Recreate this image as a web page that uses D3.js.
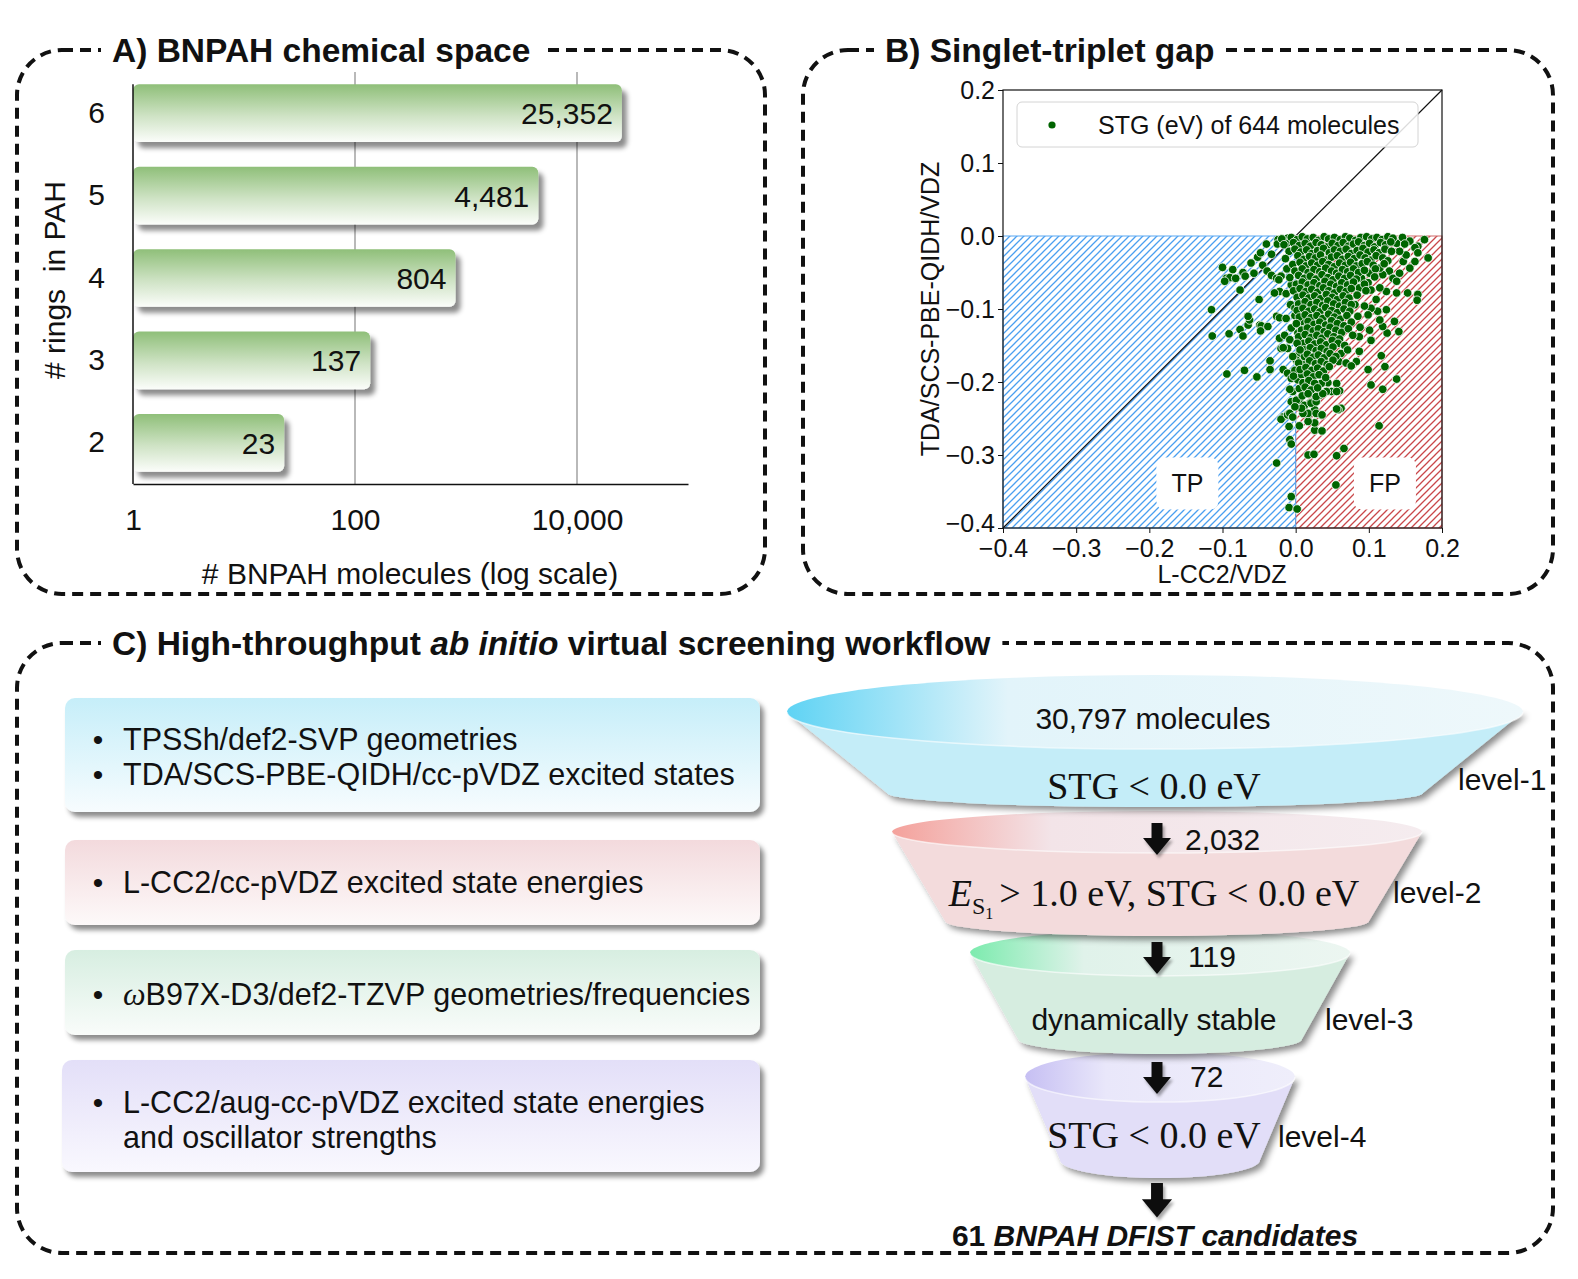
<!DOCTYPE html>
<html lang="en">
<head>
  <meta charset="UTF-8" />
  <title>BNPAH screening overview</title>
  <style>
    body {
      margin: 0;
      background: #fff;
    }
    svg {
      display: block;
      font-family: 'Liberation Sans', Arial, sans-serif;
    }
    .axisA text { font-size: 30px; fill: #111; }
    .axisA path { stroke: #111; stroke-width: 1.5px; }
    .axisB text { font-size: 25px; fill: #111; }
    .axisB line { stroke: #111; }
    .axisB path { display: none; }
  </style>
</head>
<body>
<svg id="fig" width="1578" height="1279"></svg>

<script src="https://d3js.org/d3.v7.min.js"></script>
<script>
  // --- data
  const ringCounts = ["6", "5", "4", "3", "2"];
  const moleculeCounts = [25352, 4481, 804, 137, 23];
  const logTicks = [1, 100, 10000];

  const stgTicks = [-0.4, -0.3, -0.2, -0.1, 0.0, 0.1, 0.2];
  const stgLegend = "STG (eV) of 644 molecules";
  // [L-CC2/VDZ, TDA/SCS-PBE-QIDH/VDZ] in eV
  const stgPoints = [
    // scattered TP side
    [-0.115,-0.101],[-0.114,-0.137],[-0.100,-0.043],[-0.086,-0.046],[-0.095,-0.058],[-0.090,-0.057],
    [-0.082,-0.058],[-0.097,-0.062],[-0.076,-0.074],[-0.072,-0.050],[-0.069,-0.055],[-0.061,-0.037],
    [-0.057,-0.051],[-0.052,-0.029],[-0.048,-0.023],[-0.045,-0.040],[-0.040,-0.011],[-0.039,-0.048],
    [-0.033,-0.025],[-0.050,-0.087],[-0.091,-0.134],[-0.094,-0.189],[-0.070,-0.184],[-0.053,-0.193],
    [-0.076,-0.128],[-0.072,-0.137],[-0.065,-0.122],[-0.063,-0.115],[-0.065,-0.110],[-0.049,-0.122],
    [-0.047,-0.123],[-0.048,-0.130],[-0.038,-0.124],[-0.035,-0.171],[-0.035,-0.183],[-0.026,-0.311],
    [-0.006,-0.357],[-0.009,-0.372],[0.002,-0.374],[-0.024,-0.005],[-0.025,-0.011],[-0.011,-0.003],
    [-0.012,-0.010],[-0.012,-0.045],[-0.033,-0.054],[-0.026,-0.058],[-0.020,-0.055],[-0.023,-0.060],
    [-0.022,-0.076],[-0.029,-0.078],[-0.013,-0.079],[-0.006,-0.067],[-0.007,-0.094],[-0.026,-0.110],
    [-0.022,-0.112],[-0.013,-0.113],[-0.020,-0.154],[-0.011,-0.154],[-0.022,-0.140],[-0.015,-0.136],
    [-0.017,-0.183],[-0.011,-0.188],[-0.006,-0.195],[-0.004,-0.213],[-0.006,-0.227],[-0.017,-0.248],
    [-0.020,-0.251],[-0.011,-0.245],[-0.009,-0.261],[-0.008,-0.279],[-0.006,-0.285],[-0.008,-0.243],
    [-0.004,-0.248],[-0.017,-0.153],
    // scattered FP side
    [0.176,-0.005],[0.167,-0.014],[0.156,-0.007],[0.163,-0.016],[0.181,-0.030],[0.163,-0.035],
    [0.156,-0.044],[0.147,-0.035],[0.151,-0.026],[0.142,-0.021],[0.138,-0.010],[0.167,-0.023],
    [0.167,-0.080],[0.166,-0.088],[0.153,-0.078],[0.138,-0.078],[0.124,-0.076],[0.115,-0.071],
    [0.128,-0.048],[0.119,-0.053],[0.115,-0.044],[0.133,-0.058],[0.142,-0.051],[0.138,-0.062],
    [0.110,-0.087],[0.124,-0.101],[0.112,-0.103],[0.103,-0.099],[0.099,-0.108],[0.085,-0.110],
    [0.094,-0.096],[0.081,-0.094],[0.101,-0.051],[0.099,-0.064],[0.087,-0.071],[0.090,-0.058],
    [0.103,-0.074],[0.135,-0.117],[0.141,-0.131],[0.125,-0.133],[0.119,-0.124],[0.115,-0.115],
    [0.101,-0.129],[0.103,-0.143],[0.088,-0.125],[0.087,-0.138],[0.087,-0.158],[0.083,-0.172],
    [0.062,-0.161],[0.059,-0.172],[0.069,-0.174],[0.076,-0.178],[0.099,-0.183],[0.117,-0.164],
    [0.122,-0.179],[0.138,-0.196],[0.103,-0.204],[0.119,-0.210],[0.060,-0.212],[0.049,-0.213],
    [0.056,-0.202],[0.044,-0.201],[0.062,-0.236],[0.058,-0.238],[0.035,-0.245],[0.026,-0.225],
    [0.033,-0.218],[0.019,-0.229],[0.012,-0.233],[0.026,-0.238],[0.017,-0.245],[0.055,-0.341],
    [0.017,-0.300],[0.025,-0.299],[0.056,-0.301],[0.066,-0.291],[0.114,-0.260],[0.005,-0.260],
    [0.026,-0.266],[0.036,-0.267],[0.026,-0.256],[0.017,-0.254],[0.017,-0.243],[0.010,-0.243],
    [0.028,-0.243],[0.036,-0.245],[0.056,-0.237],[0.005,-0.225],[0.012,-0.232],[0.008,-0.236],
    [0.021,-0.229],[0.028,-0.227],[0.042,-0.213],[0.056,-0.213],[0.035,-0.202],[0.028,-0.220],
    [0.037,-0.216],[0.001,-0.225],[-0.001,-0.234],[0.005,-0.209],[0.003,-0.197],[0.008,-0.190],
    [-0.001,-0.184],[0.005,-0.122],[0.012,-0.124],[0.003,-0.133],[-0.006,-0.126],[-0.008,-0.142],
    [0.010,-0.147],[0.012,-0.156],[0.005,-0.161],[0.001,-0.170],[0.009,-0.174],[0.012,-0.165],
    [0.008,-0.117],[-0.001,-0.109],[-0.001,-0.099],[0.005,-0.096],[0.005,-0.069],[-0.001,-0.076],
    // dense core
    [-0.019,-0.004],[-0.006,-0.002],[0.002,-0.005],[0.009,-0.001],[0.016,-0.004],[0.024,-0.002],
    [0.031,-0.006],[0.039,-0.001],[0.045,-0.004],[0.053,-0.002],[0.061,-0.005],[0.068,-0.001],
    [0.074,-0.003],[0.082,-0.006],[0.089,-0.002],[0.097,-0.001],[0.104,-0.004],[0.111,-0.002],
    [0.118,-0.005],[0.126,-0.001],[0.133,-0.003],[0.146,-0.002],
    [-0.016,-0.012],[-0.003,-0.009],[0.005,-0.013],[0.013,-0.010],[0.020,-0.014],[0.028,-0.009],
    [0.035,-0.012],[0.043,-0.015],[0.050,-0.010],[0.058,-0.013],[0.065,-0.009],[0.072,-0.014],
    [0.079,-0.011],[0.086,-0.008],[0.094,-0.013],[0.101,-0.010],[0.108,-0.015],[0.116,-0.009],
    [0.123,-0.012],[0.130,-0.008],[0.149,-0.011],
    [-0.009,-0.021],[-0.001,-0.018],[0.007,-0.022],[0.015,-0.019],[0.022,-0.024],[0.030,-0.020],
    [0.038,-0.017],[0.046,-0.023],[0.053,-0.019],[0.061,-0.021],[0.069,-0.018],[0.076,-0.024],
    [0.084,-0.020],[0.092,-0.017],[0.099,-0.022],[0.107,-0.019],[0.114,-0.023],[0.122,-0.018],
    [0.131,-0.021],
    [-0.014,-0.031],[0.003,-0.027],[0.011,-0.032],[0.019,-0.028],[0.027,-0.030],[0.034,-0.026],
    [0.042,-0.033],[0.049,-0.029],[0.057,-0.027],[0.064,-0.032],[0.072,-0.028],[0.080,-0.031],
    [0.088,-0.026],[0.095,-0.030],[0.103,-0.033],[0.110,-0.027],[0.119,-0.030],[0.126,-0.034],
    [-0.004,-0.039],[0.006,-0.036],[0.014,-0.041],[0.022,-0.037],[0.030,-0.040],[0.037,-0.035],
    [0.045,-0.039],[0.053,-0.042],[0.060,-0.037],[0.068,-0.040],[0.075,-0.036],[0.083,-0.041],
    [0.091,-0.038],[0.098,-0.035],[0.106,-0.040],[0.121,-0.038],
    [-0.001,-0.048],[0.009,-0.045],[0.017,-0.050],[0.025,-0.046],[0.033,-0.049],[0.041,-0.044],
    [0.049,-0.048],[0.056,-0.051],[0.064,-0.046],[0.071,-0.049],[0.079,-0.045],[0.086,-0.050],
    [0.094,-0.047],[0.109,-0.045],
    [-0.008,-0.057],[0.004,-0.054],[0.012,-0.058],[0.020,-0.055],[0.028,-0.059],[0.036,-0.053],
    [0.044,-0.057],[0.051,-0.060],[0.059,-0.055],[0.067,-0.058],[0.075,-0.054],[0.083,-0.059],
    [0.108,-0.056],
    [0.001,-0.066],[0.009,-0.063],[0.017,-0.067],[0.025,-0.064],[0.033,-0.068],[0.040,-0.062],
    [0.048,-0.066],[0.056,-0.069],[0.063,-0.064],[0.071,-0.067],[0.079,-0.063],[0.094,-0.066],
    [-0.003,-0.075],[0.006,-0.072],[0.014,-0.076],[0.022,-0.073],[0.030,-0.077],[0.038,-0.071],
    [0.045,-0.075],[0.053,-0.078],[0.061,-0.073],[0.069,-0.076],[0.076,-0.072],[0.096,-0.075],
    [0.002,-0.084],[0.010,-0.081],[0.018,-0.085],[0.026,-0.082],[0.034,-0.086],[0.042,-0.080],
    [0.050,-0.084],[0.057,-0.087],[0.065,-0.082],[0.073,-0.085],[0.084,-0.081],
    [0.004,-0.093],[0.013,-0.090],[0.021,-0.094],[0.029,-0.091],[0.037,-0.095],[0.044,-0.089],
    [0.052,-0.093],[0.060,-0.096],[0.068,-0.091],[0.076,-0.094],
    [0.002,-0.102],[0.010,-0.099],[0.018,-0.103],[0.026,-0.100],[0.033,-0.104],[0.041,-0.098],
    [0.049,-0.102],[0.057,-0.105],[0.066,-0.100],[0.074,-0.103],
    [0.005,-0.111],[0.013,-0.108],[0.021,-0.112],[0.029,-0.109],[0.037,-0.113],[0.045,-0.107],
    [0.053,-0.111],[0.061,-0.114],[0.070,-0.109],
    [0.001,-0.120],[0.017,-0.117],[0.025,-0.121],[0.033,-0.118],[0.041,-0.122],[0.049,-0.116],
    [0.057,-0.120],[0.066,-0.123],[0.076,-0.118],
    [0.008,-0.129],[0.016,-0.126],[0.024,-0.130],[0.031,-0.127],[0.039,-0.131],[0.047,-0.125],
    [0.055,-0.129],[0.063,-0.132],[0.072,-0.127],
    [0.004,-0.138],[0.013,-0.135],[0.021,-0.139],[0.029,-0.136],[0.036,-0.140],[0.044,-0.134],
    [0.052,-0.138],[0.060,-0.141],[0.078,-0.136],
    [0.002,-0.147],[0.018,-0.144],[0.026,-0.148],[0.034,-0.145],[0.042,-0.149],[0.050,-0.143],
    [0.058,-0.147],[0.067,-0.150],
    [0.006,-0.156],[0.020,-0.153],[0.028,-0.157],[0.035,-0.154],[0.043,-0.158],[0.051,-0.152],
    [0.071,-0.156],
    [-0.004,-0.165],[0.016,-0.162],[0.024,-0.166],[0.031,-0.163],[0.039,-0.167],[0.047,-0.161],
    [0.055,-0.165],
    [0.004,-0.174],[0.019,-0.171],[0.027,-0.175],[0.035,-0.172],[0.043,-0.176],[0.051,-0.170],
    [0.006,-0.183],[0.014,-0.180],[0.022,-0.184],[0.030,-0.181],[0.038,-0.185],[0.046,-0.179],
    [-0.003,-0.192],[0.016,-0.189],[0.024,-0.193],[0.032,-0.190],[0.041,-0.194],
    [0.010,-0.201],[0.018,-0.198],[0.026,-0.202],
    [-0.008,-0.210],[0.013,-0.207],[0.021,-0.211],[0.030,-0.208],
    [0.009,-0.219],[0.017,-0.216]
  ];

  const protocolSteps = [
    [{ bullet: true, text: "TPSSh/def2-SVP geometries" },
     { bullet: true, text: "TDA/SCS-PBE-QIDH/cc-pVDZ excited states" }],
    [{ bullet: true, text: "L-CC2/cc-pVDZ excited state energies" }],
    [{ bullet: true, text: "ωB97X-D3/def2-TZVP geometries/frequencies" }],
    [{ bullet: true, text: "L-CC2/aug-cc-pVDZ excited state energies" },
     { bullet: false, text: "and oscillator strengths" }]
  ];
  const funnelCounts = ["30,797 molecules", "2,032", "119", "72"];
  const funnelCriteria = ["STG < 0.0 eV", "ES1 > 1.0 eV, STG < 0.0 eV", "dynamically stable", "STG < 0.0 eV"];
  const funnelLevels = ["level-1", "level-2", "level-3", "level-4"];
  const finalCount = "61";
  const finalLabel = "BNPAH DFIST candidates";

  // --- set up
  const svg = d3.select("#fig");
  const defs = svg.append("defs");

  function dropShadow(id, dx, dy, sd, op) {
    const f = defs.append("filter").attr("id", id)
      .attr("x", "-20%").attr("y", "-20%").attr("width", "145%").attr("height", "160%");
    f.append("feDropShadow").attr("dx", dx).attr("dy", dy).attr("stdDeviation", sd)
      .attr("flood-color", "#000").attr("flood-opacity", op);
  }
  function linGrad(id, vertical, stops) {
    const gr = defs.append("linearGradient").attr("id", id)
      .attr("x1", 0).attr("y1", 0).attr("x2", vertical ? 0 : 1).attr("y2", vertical ? 1 : 0);
    stops.forEach(s => gr.append("stop").attr("offset", s[0]).attr("stop-color", s[1]));
  }
  function hatch(id, color) {
    const p = defs.append("pattern").attr("id", id).attr("patternUnits", "userSpaceOnUse")
      .attr("width", 7).attr("height", 7);
    p.append("path").attr("d", "M-1,1 l2,-2 M0,7 l7,-7 M6,8 l2,-2")
      .attr("stroke", color).attr("stroke-width", 1.3);
  }

  dropShadow("barShadow", 5, 6, 2.5, 0.45);
  dropShadow("boxShadow", 4, 5, 2.5, 0.45);
  dropShadow("funnelShadow", 4, 4, 3, 0.45);
  dropShadow("arrowShadow", 2, 3, 1.5, 0.35);
  linGrad("barGrad", true, [[0, "#8fbf79"], [0.55, "#cfe3c5"], [1, "#fbfdfa"]]);
  hatch("hatchBlue", "#4a9ff0");
  hatch("hatchRed", "#c9474a");

  // --- dashed panel frames
  const frames = [
    { x: 17, y: 50, w: 748, h: 544, tx: 112 },
    { x: 803, y: 50, w: 750, h: 544, tx: 885 },
    { x: 17, y: 643, w: 1536, h: 610, tx: 112 }
  ];
  const frameG = svg.append("g");
  frames.forEach(f => {
    frameG.append("rect").attr("x", f.x).attr("y", f.y).attr("width", f.w).attr("height", f.h)
      .attr("rx", 45).attr("ry", 45)
      .attr("fill", "none").attr("stroke", "#111").attr("stroke-width", 4)
      .attr("stroke-dasharray", "11 7");
  });

  function frameTitle(f, parts) {
    const t = frameG.append("text").attr("x", f.tx).attr("y", f.y + 12)
      .attr("font-size", 33.5).attr("font-weight", "bold").attr("fill", "#111");
    parts.forEach(p => t.append("tspan").attr("font-style", p[1] ? "italic" : "normal").text(p[0]));
    const bb = t.node().getBBox();
    frameG.insert("rect", () => t.node())
      .attr("x", bb.x - 11).attr("y", f.y - 12).attr("width", bb.width + 22).attr("height", 24)
      .attr("fill", "#fff");
  }
  frameTitle(frames[0], [["A) BNPAH chemical space", false]]);
  frameTitle(frames[1], [["B) Singlet-triplet gap", false]]);
  frameTitle(frames[2], [["C) High-throughput ", false], ["ab initio", true], [" virtual screening workflow", false]]);

  // --- panel A: log bars
  const xA = d3.scaleLog().domain([1, 1e5]).range([133, 688]);
  const yA = d3.scaleBand().domain(ringCounts).range([72, 484]).paddingInner(0.3).paddingOuter(0.15);
  const gA = svg.append("g");

  gA.selectAll("line.grid").data(logTicks.slice(1)).join("line").attr("class", "grid")
    .attr("x1", d => xA(d)).attr("x2", d => xA(d)).attr("y1", 72).attr("y2", 484)
    .attr("stroke", "#8a8a8a").attr("stroke-width", 1.2);

  gA.selectAll("rect.bar").data(moleculeCounts).join("rect").attr("class", "bar")
    .attr("x", xA(1)).attr("y", (d, i) => yA(ringCounts[i]))
    .attr("width", d => xA(d) - xA(1)).attr("height", yA.bandwidth())
    .attr("rx", 6).attr("fill", "url(#barGrad)").attr("filter", "url(#barShadow)");

  gA.selectAll("text.val").data(moleculeCounts).join("text").attr("class", "val")
    .attr("x", d => xA(d) - 9).attr("y", (d, i) => yA(ringCounts[i]) + yA.bandwidth() / 2 + 11)
    .attr("text-anchor", "end").attr("font-size", 30).attr("fill", "#111")
    .text(d => d3.format(",")(d));

  gA.append("g").attr("class", "axisA").attr("transform", "translate(0,484)")
    .call(d3.axisBottom(xA).tickValues(logTicks).tickFormat(d3.format(",")).tickSize(0).tickPadding(25));
  gA.append("g").attr("class", "axisA").attr("transform", "translate(133,0)")
    .call(d3.axisLeft(yA).tickSize(0).tickPadding(28))
    .call(g => g.select(".domain").remove());
  gA.append("line").attr("x1", 133).attr("x2", 133).attr("y1", yA("6")).attr("y2", 484)
    .attr("stroke", "#111").attr("stroke-width", 1.5);

  gA.append("text").attr("x", 410).attr("y", 584).attr("text-anchor", "middle")
    .attr("font-size", 30).attr("fill", "#111").text("# BNPAH molecules (log scale)");
  gA.append("text").attr("transform", "translate(65,280) rotate(-90)").attr("text-anchor", "middle")
    .attr("font-size", 30).attr("fill", "#111").attr("xml:space", "preserve").text("# rings  in PAH");

  // --- panel B: STG scatter
  const xB = d3.scaleLinear().domain([-0.4, 0.2]).range([1003, 1442]);
  const yB = d3.scaleLinear().domain([-0.4, 0.2]).range([528, 90]);
  const gB = svg.append("g");

  gB.append("rect").attr("x", xB(0)).attr("y", yB(0)).attr("width", xB(0.2) - xB(0)).attr("height", yB(-0.4) - yB(0))
    .attr("fill", "url(#hatchRed)").attr("stroke", "#d06a6a").attr("stroke-width", 1);
  gB.append("rect").attr("x", xB(-0.4)).attr("y", yB(0)).attr("width", xB(0) - xB(-0.4)).attr("height", yB(-0.4) - yB(0))
    .attr("fill", "url(#hatchBlue)").attr("stroke", "#5aa8f2").attr("stroke-width", 1);

  gB.append("line").attr("x1", xB(-0.4)).attr("y1", yB(-0.4)).attr("x2", xB(0.2)).attr("y2", yB(0.2))
    .attr("stroke", "#111").attr("stroke-width", 1.2);

  gB.selectAll("circle.pt").data(stgPoints).join("circle").attr("class", "pt")
    .attr("cx", d => xB(d[0])).attr("cy", d => yB(d[1])).attr("r", 4.3)
    .attr("fill", "#006400").attr("stroke", "#fff").attr("stroke-width", 0.8);

  [["TP", -0.148], ["FP", 0.122]].forEach(([lab, xv]) => {
    gB.append("rect").attr("x", xB(xv) - 31).attr("y", yB(-0.339) - 26).attr("width", 62).attr("height", 52)
      .attr("rx", 8).attr("fill", "#fff");
    gB.append("text").attr("x", xB(xv)).attr("y", yB(-0.339) + 9).attr("text-anchor", "middle")
      .attr("font-size", 25).attr("fill", "#111").text(lab);
  });

  gB.append("rect").attr("x", 1003).attr("y", 90).attr("width", 439).attr("height", 438)
    .attr("fill", "none").attr("stroke", "#111").attr("stroke-width", 1.2);

  const leg = gB.append("g");
  leg.append("rect").attr("x", 1017).attr("y", 102).attr("width", 401).attr("height", 45).attr("rx", 5)
    .attr("fill", "#fff").attr("fill-opacity", 0.85).attr("stroke", "#d4d4d4");
  leg.append("circle").attr("cx", 1052).attr("cy", 125).attr("r", 3.6).attr("fill", "#006400");
  leg.append("text").attr("x", 1098).attr("y", 134).attr("font-size", 25).attr("fill", "#111").text(stgLegend);

  gB.append("g").attr("class", "axisB").attr("transform", "translate(0,528)")
    .call(d3.axisBottom(xB).tickValues(stgTicks).tickFormat(d3.format(".1f")).tickSize(5).tickPadding(6));
  gB.append("g").attr("class", "axisB").attr("transform", "translate(1003,0)")
    .call(d3.axisLeft(yB).tickValues(stgTicks).tickFormat(d3.format(".1f")).tickSize(5).tickPadding(3))
    .call(g => g.selectAll(".tick text").filter(d => d === -0.4).attr("dy", "0.12em"));

  gB.append("text").attr("x", 1222).attr("y", 583).attr("text-anchor", "middle")
    .attr("font-size", 25).attr("fill", "#111").text("L-CC2/VDZ");
  gB.append("text").attr("transform", "translate(939,309) rotate(-90)").attr("text-anchor", "middle")
    .attr("font-size", 25).attr("fill", "#111").text("TDA/SCS-PBE-QIDH/VDZ");

  // --- panel C: protocol boxes
  const boxLayout = [
    { x: 65, y: 698, w: 695, h: 114, top: "#c6eef9", bot: "#f7fcfe", line0: 750 },
    { x: 65, y: 840, w: 695, h: 85, top: "#f3dadd", bot: "#fdf9f9", line0: 893 },
    { x: 65, y: 950, w: 695, h: 85, top: "#d7eee1", bot: "#f9fcfa", line0: 1005 },
    { x: 62, y: 1060, w: 698, h: 112, top: "#e3dff8", bot: "#f9f8fe", line0: 1113 }
  ];
  const gC = svg.append("g");
  protocolSteps.forEach((lines, i) => {
    const b = boxLayout[i];
    linGrad("boxGrad" + i, true, [[0, b.top], [1, b.bot]]);
    gC.append("rect").attr("x", b.x).attr("y", b.y).attr("width", b.w).attr("height", b.h)
      .attr("rx", 10).attr("fill", `url(#boxGrad${i})`).attr("filter", "url(#boxShadow)");
    lines.forEach((ln, j) => {
      const yy = b.line0 + j * 35;
      if (ln.bullet) {
        gC.append("text").attr("x", 98).attr("y", yy).attr("text-anchor", "middle")
          .attr("font-size", 30).attr("fill", "#111").text("•");
      }
      const t = gC.append("text").attr("x", 123).attr("y", yy).attr("font-size", 30.5).attr("fill", "#111");
      if (ln.text.startsWith("ω")) {
        t.append("tspan").attr("font-family", "'Liberation Serif', 'Times New Roman', serif")
          .attr("font-style", "italic").attr("font-size", 32).text("ω");
        t.append("tspan").text(ln.text.slice(1));
      } else {
        t.text(ln.text);
      }
    });
  });

  // --- panel C: funnel
  const funnelGeom = [
    { cx: 1155, ty: 712, rx: 368, ry: 37, by: 793, brx: 268, bry: 14, body: "#c4edf8",
      rim: ["#5fd3f4", "#e2f4fa", "#eef8fb"], critY: 799, lvlX: 1458, lvlY: 790 },
    { cx: 1157, ty: 832, rx: 265, ry: 21, by: 921, brx: 212, bry: 15, body: "#f3dbdc",
      rim: ["#f4a19b", "#f3e4e8", "#f5ecef"], critY: 906, lvlX: 1393, lvlY: 903 },
    { cx: 1160, ty: 953, rx: 190, ry: 23, by: 1039, brx: 142, bry: 15, body: "#d6ede0",
      rim: ["#7cebae", "#e0f2ea", "#ecf6f1"], critY: 1030, lvlX: 1325, lvlY: 1030 },
    { cx: 1160, ty: 1077, rx: 135, ry: 25, by: 1160, brx: 100, bry: 18, body: "#e2def8",
      rim: ["#c6bff3", "#e9e7fa", "#efeefb"], critY: 1148, lvlX: 1278, lvlY: 1147 }
  ];
  const arrowLayout = [
    { x: 1157, y: 823, s: 1 }, { x: 1157, y: 942, s: 1 }, { x: 1157, y: 1062, s: 1 }, { x: 1157, y: 1183, s: 1.08 }
  ];
  const countLayout = [{ x: 1153, y: 729, a: "middle" }, { x: 1185, y: 850, a: "start" },
                       { x: 1188, y: 967, a: "start" }, { x: 1190, y: 1087, a: "start" }];

  const gF = svg.append("g");
  // draw bottom level first so upper levels overlap
  for (let i = funnelGeom.length - 1; i >= 0; i--) {
    const f = funnelGeom[i];
    linGrad("rimGrad" + i, false, [[0, f.rim[0]], [0.3, f.rim[1]], [1, f.rim[2]]]);
    const body = `M${f.cx - f.rx},${f.ty} L${f.cx - f.brx},${f.by} ` +
      `A${f.brx},${f.bry} 0 0 0 ${f.cx + f.brx},${f.by} L${f.cx + f.rx},${f.ty} Z`;
    gF.append("path").attr("d", body).attr("fill", f.body).attr("filter", "url(#funnelShadow)");
    gF.append("ellipse").attr("cx", f.cx).attr("cy", f.ty).attr("rx", f.rx).attr("ry", f.ry)
      .attr("fill", `url(#rimGrad${i})`);
    gF.append("path")
      .attr("d", `M${f.cx - f.rx},${f.ty} A${f.rx},${f.ry} 0 0 0 ${f.cx + f.rx},${f.ty}`)
      .attr("fill", "none").attr("stroke", "#ffffff").attr("stroke-opacity", 0.6).attr("stroke-width", 1.5);
  }

  const arrowPath = "M-5.5,0 H5.5 V15 H14 L0,32 L-14,15 H-5.5 Z";
  arrowLayout.forEach(a => {
    gF.append("path").attr("d", arrowPath)
      .attr("transform", `translate(${a.x},${a.y}) scale(${a.s})`)
      .attr("fill", "#111").attr("filter", "url(#arrowShadow)");
  });

  funnelCounts.forEach((c, i) => {
    const L = countLayout[i];
    gF.append("text").attr("x", L.x).attr("y", L.y).attr("text-anchor", L.a)
      .attr("font-size", 30).attr("fill", "#111").text(c);
  });

  const serif = "'Liberation Serif', 'Times New Roman', serif";
  funnelCriteria.forEach((c, i) => {
    const f = funnelGeom[i];
    const t = gF.append("text").attr("x", 1154).attr("y", f.critY).attr("text-anchor", "middle").attr("fill", "#111");
    if (c.startsWith("ES1")) {
      t.attr("font-family", serif).attr("font-size", 38);
      t.append("tspan").attr("font-style", "italic").text("E");
      t.append("tspan").attr("font-size", 24).attr("dy", 8).text("S");
      t.append("tspan").attr("font-size", 16).attr("dy", 5).text("1");
      t.append("tspan").attr("dy", -13).attr("dx", 6).text(c.slice(3).trim());
    } else if (c.startsWith("STG")) {
      t.attr("font-family", serif).attr("font-size", 38).text(c);
    } else {
      t.attr("font-size", 30).text(c);
    }
    gF.append("text").attr("x", f.lvlX).attr("y", f.lvlY)
      .attr("font-size", 30).attr("fill", "#111").text(funnelLevels[i]);
  });

  const fin = gF.append("text").attr("x", 1155).attr("y", 1246).attr("text-anchor", "middle")
    .attr("font-size", 30).attr("font-weight", "bold").attr("fill", "#111");
  fin.append("tspan").text(finalCount + " ");
  fin.append("tspan").attr("font-style", "italic").text(finalLabel);
</script>
</body>
</html>
